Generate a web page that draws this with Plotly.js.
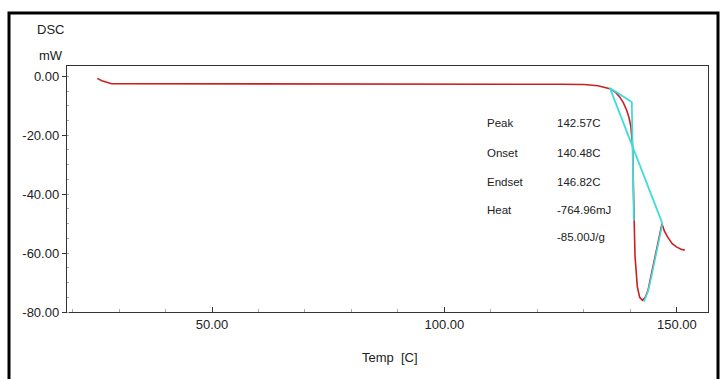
<!DOCTYPE html>
<html>
<head>
<meta charset="utf-8">
<script src="https://cdn.plot.ly/plotly-3.0.1.min.js"></script>
<style>html,body{margin:0;padding:0;background:#fff;}#chart{width:720px;height:379px;}</style>
</head>
<body>
<div id="chart"></div>
<script>
// DSC curve (temperature in C, heat flow in mW)
const temp = [25.3, 26.3, 28.4, 30, 40, 50, 60, 70, 80, 90, 100, 107.5, 108.5, 115, 125, 130, 133, 135.6, 136.8, 137.7, 138.5, 139.2, 139.7, 140.1, 140.5, 140.65, 140.8, 141.0, 141.5, 142.0, 142.6, 143.2, 143.8, 144.5, 145.3, 146.1, 146.8, 147.3, 148.0, 149.0, 150.0, 150.9, 151.7];
const dsc  = [-0.7, -1.5, -2.5, -2.5, -2.5, -2.5, -2.5, -2.5, -2.5, -2.5, -2.5, -2.5, -2.7, -2.7, -2.7, -2.8, -3.2, -4.2, -5.4, -7.0, -9.0, -11.5, -14.0, -17.0, -24.0, -37.6, -50.0, -61.0, -71.5, -75.0, -76.0, -75.0, -72.6, -67.5, -61.0, -55.0, -50.0, -52.5, -54.5, -56.8, -58.0, -58.7, -59.0];

// analysis construction lines (cyan)
const tanT = [135.6, 140.3, 140.75];
const tanV = [-4.0, -8.7, -49.0];
const baseT = [135.6, 146.9];
const baseV = [-4.0, -50.0];
const flankT = [142.9, 143.8, 144.6, 145.4, 146.2, 146.9];
const flankV = [-76.5, -73.0, -67.5, -61.0, -55.0, -50.0];

// result table
const resLabels = ["Peak", "Onset", "Endset", "Heat", ""];
const resValues = ["142.57C", "140.48C", "146.82C", "-764.96mJ", "-85.00J/g"];
const resY = [-15.9, -26.0, -35.9, -45.4, -54.6];

const xTicks = [50, 100, 150];
const xTickText = ["50.00", "100.00", "150.00"];
const yTicks = [0, -20, -40, -60, -80];
const yTickText = ["0.00", "-20.00", "-40.00", "-60.00", "-80.00"];

const FONT = "Liberation Sans, Arial, sans-serif";
const red = "#cc2020";
const cyan = "#3fdcdc";

const traces = [
  {x: temp, y: dsc, mode: "lines", line: {color: red, width: 1.6}, hoverinfo: "skip"},
  {x: tanT, y: tanV, mode: "lines", line: {color: cyan, width: 1.8}, hoverinfo: "skip"},
  {x: baseT, y: baseV, mode: "lines", line: {color: cyan, width: 1.8}, hoverinfo: "skip"},
  {x: flankT, y: flankV, mode: "lines", line: {color: cyan, width: 1.6}, hoverinfo: "skip"}
];

const L = 67, R = 12, T = 66, B = 67, W = 720, H = 379;
const pw = W - L - R, ph = H - T - B;
const px2x = p => (p - L) / pw;
const px2y = p => (H - B - p) / ph;

const annotations = [];
resLabels.forEach((t, i) => {
  if (t) annotations.push({x: 108.7, y: resY[i], xref: "x", yref: "y", text: t, showarrow: false,
    xanchor: "left", yanchor: "middle", font: {family: FONT, size: 11.5, color: "#222"}});
  annotations.push({x: 123.8, y: resY[i], xref: "x", yref: "y", text: resValues[i], showarrow: false,
    xanchor: "left", yanchor: "middle", font: {family: FONT, size: 11.5, color: "#222"}});
});
annotations.push({x: px2x(50), y: px2y(29), xref: "paper", yref: "paper", text: "DSC", showarrow: false,
  xanchor: "center", yanchor: "middle", font: {family: FONT, size: 13, color: "#222"}});
annotations.push({x: px2x(51), y: px2y(56), xref: "paper", yref: "paper", text: "mW", showarrow: false,
  xanchor: "center", yanchor: "middle", font: {family: FONT, size: 13, color: "#222"}});
annotations.push({x: px2x(390), y: px2y(357), xref: "paper", yref: "paper", text: "Temp  [C]", showarrow: false,
  xanchor: "center", yanchor: "middle", font: {family: FONT, size: 13, color: "#222"}});

const layout = {
  width: W, height: H,
  margin: {l: L, r: R, t: T, b: B, pad: 0},
  paper_bgcolor: "#fff", plot_bgcolor: "#fff",
  showlegend: false,
  font: {family: FONT, size: 13, color: "#222"},
  xaxis: {
    range: [18.8, 156.7], tickvals: xTicks, ticktext: xTickText,
    ticks: "inside", ticklen: 5, tickcolor: "#333", tickwidth: 1,
    minor: {dtick: 10, ticks: "inside", ticklen: 3, tickcolor: "#aaa"},
    showgrid: false, zeroline: false, showline: true, linecolor: "#333", linewidth: 1.2, mirror: true,
    tickfont: {family: FONT, size: 13, color: "#222"}
  },
  yaxis: {
    range: [-80, 3.5], tickvals: yTicks, ticktext: yTickText,
    ticks: "outside", ticklen: 4, tickcolor: "#333",
    minor: {dtick: 5, ticks: "inside", ticklen: 2, tickcolor: "#aaa"},
    showgrid: false, zeroline: false, showline: true, linecolor: "#333", linewidth: 1.2, mirror: true,
    tickfont: {family: FONT, size: 13, color: "#222"}
  },
  annotations: annotations,
  shapes: [{
    type: "rect", xref: "paper", yref: "paper",
    x0: px2x(9), x1: px2x(718),
    y0: px2y(385), y1: px2y(13),
    line: {color: "#000", width: 3}, fillcolor: "rgba(0,0,0,0)"
  }]
};

Plotly.newPlot("chart", traces, layout, {staticPlot: true, displayModeBar: false});
</script>
</body>
</html>
